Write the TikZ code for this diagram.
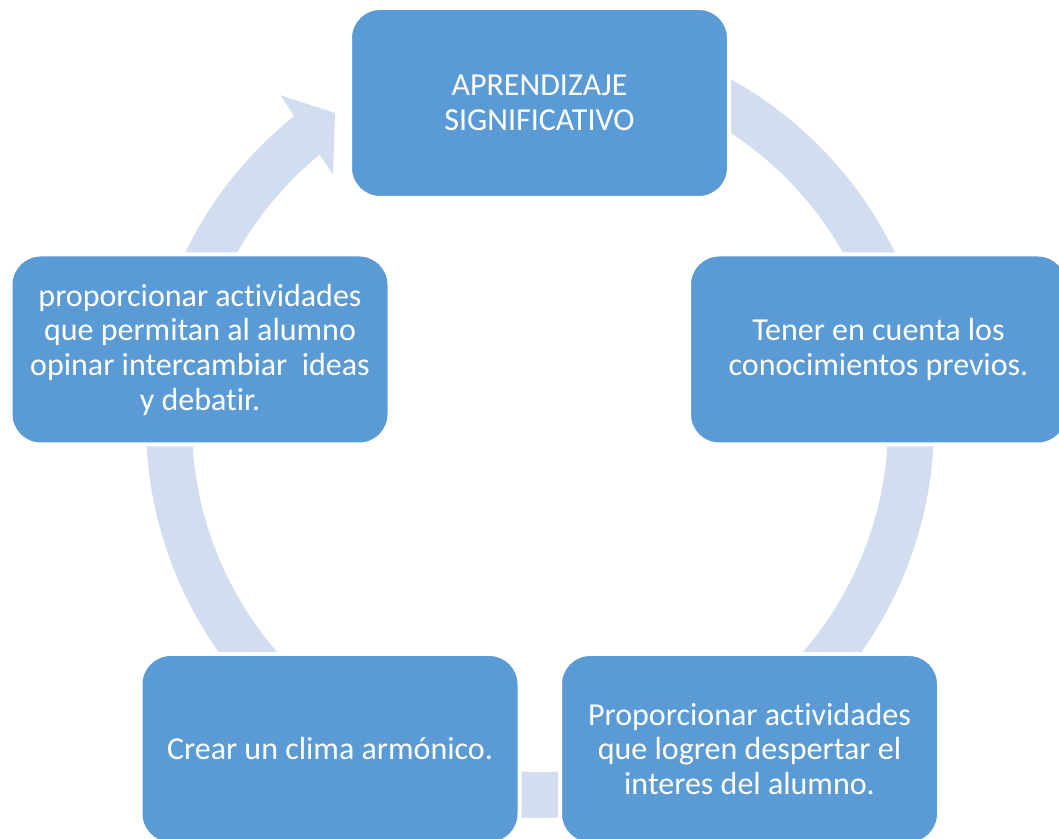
\documentclass[tikz,border=0pt]{standalone}
\usepackage{fontspec}
\setmainfont{Carlito}[Ligatures=NoCommon]
\usetikzlibrary{calc,backgrounds}
\definecolor{boxblue}{RGB}{91,155,213}
\definecolor{ringblue}{RGB}{210,222,239}
\tikzset{
  stage/.style={draw=white, line width=3pt, fill=boxblue, rounded corners=22.5pt,
    minimum width=284.25pt, minimum height=142.5pt, inner sep=2pt,
    align=center, text=white, font=\fontsize{24}{26}\selectfont},
  ring/.style={draw=ringblue, line width=34.5pt}
}
\begin{document}
\begin{tikzpicture}[x=0.75pt,y=0.75pt]
        \useasboundingbox (0,0) rectangle (1059,838);
        \clip (0,0) rectangle (1059,838);
        % Centre of the cycle
        \coordinate (c) at (540,414);
        % Define the nodes of the cycle
        \node[stage] (ap) at (539.5,735) {APRENDIZAJE\\SIGNIFICATIVO};
        \node[stage] (tc) at (878.5,488.5) {Tener en cuenta los\\conocimientos previos.};
        \node[stage] (pa) at (749.5,89) {Proporcionar actividades\\que logren despertar el\\interes del alumno.};
        \node[stage] (cc) at (330,89) {Crear un clima arm\'onico.};
        \node[stage] (pr) at (200,488.5) {proporcionar actividades\\que permitan al alumno\\opinar intercambiar~ ideas\\y debatir.};
        % Connect the nodes with the ring
        \begin{scope}[on background layer]
        \draw[ring] let \p1=($(ap)-(c)$), \p2=($(tc)-(c)$), \n1={atan2(\y1,\x1)}, \n2={atan2(\y2,\x2)}
            in ($(c)+(\n1:371)$) arc[start angle=\n1, end angle=\n2, radius=371];
        \draw[ring] let \p1=($(tc)-(c)$), \p2=($(pa)-(c)$), \n1={atan2(\y1,\x1)}, \n2={atan2(\y2,\x2)}
            in ($(c)+(\n1:371)$) arc[start angle=\n1, end angle=\n2, radius=371];
        \draw[ring] let \p1=($(pa)-(c)$), \p2=($(cc)-(c)$), \n1={atan2(\y1,\x1)}, \n2={atan2(\y2,\x2)}
            in ($(c)+(\n1:371)$) arc[start angle=\n1, end angle=\n2, radius=371];
        \draw[ring] let \p1=($(cc)-(c)$), \p2=($(pr)-(c)$), \n1={atan2(\y1,\x1)}, \n2={atan2(\y2,\x2)-360}
            in ($(c)+(\n1:371)$) arc[start angle=\n1, end angle=\n2, radius=371];
        % last one ends in the arrow head
        \draw[ring] let \p1=($(pr)-(c)$), \n1={atan2(\y1,\x1)}
            in ($(c)+(\n1:371)$) arc[start angle=\n1, end angle=128, radius=371];
        \fill[ringblue] ($(c)+(128.3:419)$) -- ($(c)+(123.4:372.5)$) -- ($(c)+(129.7:324)$) -- cycle;
        \end{scope}
\end{tikzpicture}
\end{document}
